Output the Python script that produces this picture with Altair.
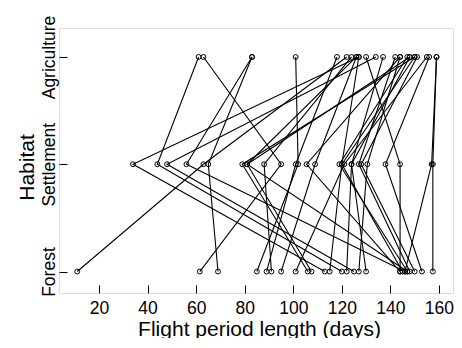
import altair as alt
import pandas as pd

habitats = ["Forest", "Settlement", "Agriculture"]

# flight period length (days) of each species in each habitat
forest = [11, 69, 146, 120, 61.5, 85, 113, 125, 107.5, 106, 91, 89, 144, 95,
          147, 145, 101, 130, 148, 150, 127, 153, 144, 157.5, 146, 115, 122, 147]
settlement = [63, 65, 56, 44, 95, 102, 34, 48, 81, 79, 88, 101, 105.5, 109,
              119, 120, 121, 124, 127, 128, 130.5, 138, 144, 157.5, 157, 120, 124, 81]
agriculture = [122, 83, 83, 61, 63, 101, 127, 134, 148, 150, 124, 118, 144, 126,
               147, 150, 155, 137, 142, 151, 144, 156, 130, 159, 159, 127, 148, 126]

x_ticks = [20, 40, 60, 80, 100, 120, 140, 160]

rows = []
for i, triple in enumerate(zip(forest, settlement, agriculture)):
    for k, v in enumerate(triple):
        rows.append({"species": i, "level": k + 1, "habitat": habitats[k], "days": v})
df = pd.DataFrame(rows)

label_expr = "datum.value == 1 ? '%s' : datum.value == 2 ? '%s' : '%s'" % tuple(habitats)

x = alt.X(
    "days:Q",
    scale=alt.Scale(domain=[3.5, 165.8], nice=False, zero=False),
    axis=alt.Axis(
        values=x_ticks, title="Flight period length (days)", offset=-8,
        domain=False, grid=False, tickSize=8, tickColor="black", tickWidth=1,
        labelFontSize=17.5, labelPadding=6, labelColor="black",
        titleFontSize=21, titleFontWeight="normal", titleColor="black",
        titleX=200, titleY=50, titleBaseline="alphabetic", titleAlign="center",
    ),
)
y = alt.Y(
    "level:Q",
    scale=alt.Scale(domain=[0.8, 3.27], nice=False, zero=False),
    axis=alt.Axis(
        values=[1, 2, 3], labelExpr=label_expr, title="Habitat", offset=-8,
        domain=False, grid=False, tickSize=8, tickColor="black", tickWidth=1,
        labelFontSize=17.5, labelPadding=5, labelAngle=270, labelAlign="center",
        labelBaseline="alphabetic", labelColor="black",
        titleFontSize=21, titleFontWeight="normal", titleColor="black",
        titleAngle=270, titleX=-34, titleY=139, titleBaseline="alphabetic",
        titleAlign="center",
    ),
)

base = alt.Chart(df)
lines = base.mark_line(color="black", strokeWidth=1.1).encode(
    x=x, y=y, detail="species:N", order="level:Q"
)
pts = base.mark_point(shape="circle", filled=False, color="black", size=24,
                      strokeWidth=1, opacity=1).encode(x=x, y=y)

chart = (
    (lines + pts)
    .properties(
        width=394, height=265,
        padding={"left": 51, "top": 20, "right": 1, "bottom": 45},
        autosize="none",
    )
    .configure_view(stroke="black", strokeWidth=1)
    .configure_axis(labelFont="Liberation Sans", titleFont="Liberation Sans")
    .configure(background="white")
)

chart.save("out.html", embed_options={"renderer": "svg", "actions": False})
